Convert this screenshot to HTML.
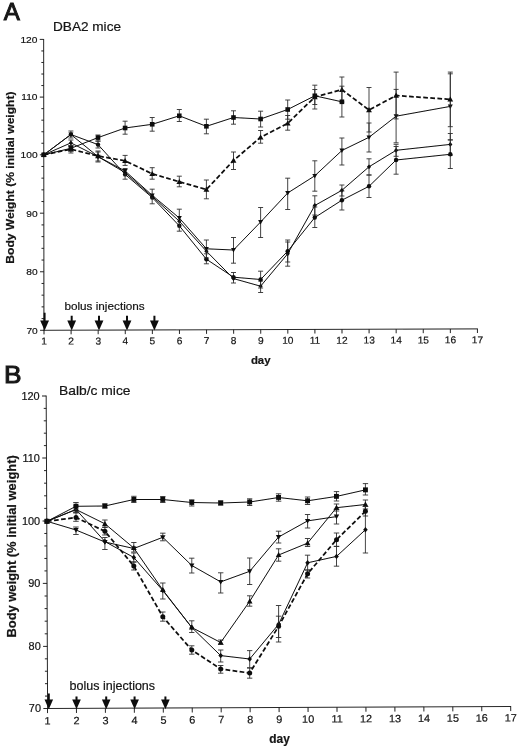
<!DOCTYPE html>
<html><head><meta charset="utf-8"><title>Body weight</title>
<style>html,body{margin:0;padding:0;background:#fff}body{width:520px;height:749px;overflow:hidden}svg{display:block}text{font-family:"Liberation Sans",sans-serif;fill:#141414;stroke:#141414;stroke-width:0.2px}</style></head><body>
<svg width="520" height="749" viewBox="0 0 520 749">
<rect width="520" height="749" fill="#fff"/>
<defs><filter id="soft" x="0" y="0" width="520" height="749" filterUnits="userSpaceOnUse"><feGaussianBlur stdDeviation="0.35"/></filter></defs>
<g filter="url(#soft)">
<g id="panelA">
<text transform="translate(3.75 19.55) scale(1.050 1)" font-size="23" text-anchor="start" style="stroke-width:0.9px">A</text>
<text x="53" y="31.3" font-size="12.4" textLength="68" lengthAdjust="spacingAndGlyphs">DBA2 mice</text>
<path d="M43.65 39.0L43.95 330.7" stroke="#0c0c0c" stroke-width="0.9" fill="none"/>
<path d="M40.05 330.30H43.95M41.60 318.59H43.94M41.59 306.88H43.93M41.57 295.17H43.91M41.56 283.46H43.90M39.99 271.75H43.89M41.54 260.04H43.88M41.53 248.33H43.87M41.51 236.62H43.85M41.50 224.91H43.84M39.93 213.20H43.83M41.48 201.52H43.82M41.47 189.84H43.81M41.45 178.16H43.79M41.44 166.48H43.78M39.87 154.80H43.77M41.42 143.26H43.76M41.41 131.72H43.75M41.39 120.18H43.73M41.38 108.64H43.72M39.81 97.10H43.71M41.36 85.56H43.70M41.35 74.02H43.69M41.33 62.48H43.67M41.32 50.94H43.66M39.75 39.40H43.65" stroke="#0c0c0c" stroke-width="0.9" fill="none"/>
<text transform="translate(37.75 333.69) scale(1.030 1)" font-size="9.9" text-anchor="end">70</text>
<text transform="translate(37.69 275.14) scale(1.030 1)" font-size="9.9" text-anchor="end">80</text>
<text transform="translate(37.63 216.59) scale(1.030 1)" font-size="9.9" text-anchor="end">90</text>
<text transform="translate(37.57 158.19) scale(1.030 1)" font-size="9.9" text-anchor="end">100</text>
<text transform="translate(37.51 100.49) scale(1.030 1)" font-size="9.9" text-anchor="end">110</text>
<text transform="translate(37.45 42.79) scale(1.030 1)" font-size="9.9" text-anchor="end">120</text>
<g transform="rotate(-0.1850 43.95 330.30)">
<path d="M43.55 330.30H477.84" stroke="#0c0c0c" stroke-width="0.9" fill="none"/>
<path d="M44.00 330.30v4.1M71.09 330.30v4.1M98.18 330.30v4.1M125.27 330.30v4.1M152.36 330.30v4.1M179.45 330.30v4.1M206.54 330.30v4.1M233.63 330.30v4.1M260.72 330.30v4.1M287.81 330.30v4.1M314.90 330.30v4.1M341.99 330.30v4.1M369.08 330.30v4.1M396.17 330.30v4.1M423.26 330.30v4.1M450.35 330.30v4.1M477.44 330.30v4.1" stroke="#0c0c0c" stroke-width="0.9" fill="none"/>
</g>
<g transform="rotate(-0.1850 43.95 330.30)">
<text transform="translate(44.00 344.60) scale(1.030 1)" font-size="9.9" text-anchor="middle">1</text>
<text transform="translate(71.09 344.60) scale(1.030 1)" font-size="9.9" text-anchor="middle">2</text>
<text transform="translate(98.18 344.60) scale(1.030 1)" font-size="9.9" text-anchor="middle">3</text>
<text transform="translate(125.27 344.60) scale(1.030 1)" font-size="9.9" text-anchor="middle">4</text>
<text transform="translate(152.36 344.60) scale(1.030 1)" font-size="9.9" text-anchor="middle">5</text>
<text transform="translate(179.45 344.60) scale(1.030 1)" font-size="9.9" text-anchor="middle">6</text>
<text transform="translate(206.54 344.60) scale(1.030 1)" font-size="9.9" text-anchor="middle">7</text>
<text transform="translate(233.63 344.60) scale(1.030 1)" font-size="9.9" text-anchor="middle">8</text>
<text transform="translate(260.72 344.60) scale(1.030 1)" font-size="9.9" text-anchor="middle">9</text>
<text transform="translate(287.81 344.60) scale(1.030 1)" font-size="9.9" text-anchor="middle">10</text>
<text transform="translate(314.90 344.60) scale(1.030 1)" font-size="9.9" text-anchor="middle">11</text>
<text transform="translate(341.99 344.60) scale(1.030 1)" font-size="9.9" text-anchor="middle">12</text>
<text transform="translate(369.08 344.60) scale(1.030 1)" font-size="9.9" text-anchor="middle">13</text>
<text transform="translate(396.17 344.60) scale(1.030 1)" font-size="9.9" text-anchor="middle">14</text>
<text transform="translate(423.26 344.60) scale(1.030 1)" font-size="9.9" text-anchor="middle">15</text>
<text transform="translate(450.35 344.60) scale(1.030 1)" font-size="9.9" text-anchor="middle">16</text>
<text transform="translate(477.44 344.60) scale(1.030 1)" font-size="9.9" text-anchor="middle">17</text>
</g>
<text transform="translate(14.1 263.7) rotate(-90) scale(1.024 1)" font-size="11.8" font-weight="bold">Body Weight (% initial weight)</text>
<text transform="translate(250.90 363.50) scale(1.000 1)" font-size="11.4" text-anchor="start" font-weight="bold">day</text>
<text x="64.4" y="310.0" font-size="11.7" textLength="80.3" lengthAdjust="spacingAndGlyphs">bolus injections</text>
<path d="M43.6 312.8h2V320.6h3.4L44.6 330.6L40.2 320.6h3.4Z" fill="#0c0c0c"/>
<path d="M70.7 315.8h2V320.6h3.4L71.7 330.6L67.3 320.6h3.4Z" fill="#0c0c0c"/>
<path d="M98.0 315.8h2V320.6h3.4L99.0 330.6L94.6 320.6h3.4Z" fill="#0c0c0c"/>
<path d="M126.0 315.8h2V320.6h3.4L127.0 330.6L122.6 320.6h3.4Z" fill="#0c0c0c"/>
<path d="M153.4 315.8h2V320.6h3.4L154.4 330.6L150.0 320.6h3.4Z" fill="#0c0c0c"/>
<path d="M70.9 140.0V146.0M68.4 140.0H73.4M68.4 146.0H73.4M233.5 272.5V283.0M231.0 272.5H236.0M231.0 283.0H236.0M260.6 281.0V292.5M258.1 281.0H263.1M258.1 292.5H263.1M287.7 240.0V266.2M285.2 240.0H290.2M285.2 266.2H290.2M314.8 195.8V215.0M312.3 195.8H317.3M312.3 215.0H317.3M341.9 185.0V196.0M339.4 185.0H344.4M339.4 196.0H344.4M369.0 158.8V175.0M366.5 158.8H371.5M366.5 175.0H371.5M396.1 144.3V156.3M393.6 144.3H398.6M393.6 156.3H398.6M450.3 133.5V155.3M447.8 133.5H452.8M447.8 155.3H452.8" fill="none" stroke="#2b2b2b" stroke-width="0.88"/>
<polyline points="43.8,154.8 70.9,142.9 98.0,156.6 125.1,172.6 152.2,196.4 179.3,221.2 206.4,251.2 233.5,278.6 260.6,286.2 287.7,253.8 314.8,205.5 341.9,190.3 369.0,166.8 396.1,150.3 450.3,144.4" fill="none" stroke="#0c0c0c" stroke-width="1.0"/>
<g fill="#0c0c0c"><path d="M43.8 152.4L45.9 154.8L43.8 157.2L41.7 154.8Z"/><path d="M70.9 140.5L73.0 142.9L70.9 145.3L68.8 142.9Z"/><path d="M98.0 154.2L100.1 156.6L98.0 159.0L95.9 156.6Z"/><path d="M125.1 170.2L127.2 172.6L125.1 175.0L123.0 172.6Z"/><path d="M152.2 194.0L154.3 196.4L152.2 198.8L150.1 196.4Z"/><path d="M179.3 218.8L181.4 221.2L179.3 223.6L177.2 221.2Z"/><path d="M206.4 248.8L208.5 251.2L206.4 253.6L204.3 251.2Z"/><path d="M233.5 276.2L235.6 278.6L233.5 281.0L231.4 278.6Z"/><path d="M260.6 283.8L262.7 286.2L260.6 288.6L258.5 286.2Z"/><path d="M287.7 251.4L289.8 253.8L287.7 256.2L285.6 253.8Z"/><path d="M314.8 203.1L316.9 205.5L314.8 207.9L312.7 205.5Z"/><path d="M341.9 187.9L344.0 190.3L341.9 192.7L339.8 190.3Z"/><path d="M369.0 164.4L371.1 166.8L369.0 169.2L366.9 166.8Z"/><path d="M396.1 147.9L398.2 150.3L396.1 152.7L394.0 150.3Z"/><path d="M450.3 142.0L452.4 144.4L450.3 146.8L448.2 144.4Z"/></g>
<path d="M98.0 141.0V148.0M95.5 141.0H100.5M95.5 148.0H100.5M206.4 253.8V263.8M203.9 253.8H208.9M203.9 263.8H208.9M260.6 271.2V288.0M258.1 271.2H263.1M258.1 288.0H263.1M287.7 242.0V262.0M285.2 242.0H290.2M285.2 262.0H290.2M314.8 207.0V227.5M312.3 207.0H317.3M312.3 227.5H317.3M341.9 191.0V210.0M339.4 191.0H344.4M339.4 210.0H344.4M369.0 175.0V197.5M366.5 175.0H371.5M366.5 197.5H371.5M396.1 146.5V174.2M393.6 146.5H398.6M393.6 174.2H398.6M450.3 139.9V168.5M447.8 139.9H452.8M447.8 168.5H452.8" fill="none" stroke="#2b2b2b" stroke-width="0.88"/>
<polyline points="43.8,154.8 70.9,134.5 98.0,144.6 125.1,174.4 152.2,197.5 179.3,225.8 206.4,259.2 233.5,277.2 260.6,279.5 287.7,251.2 314.8,217.5 341.9,200.2 369.0,186.3 396.1,160.0 450.3,154.3" fill="none" stroke="#0c0c0c" stroke-width="1.0"/>
<g fill="#0c0c0c"><circle cx="43.8" cy="154.8" r="2.2"/><circle cx="70.9" cy="134.5" r="2.2"/><circle cx="98.0" cy="144.6" r="2.2"/><circle cx="125.1" cy="174.4" r="2.2"/><circle cx="152.2" cy="197.5" r="2.2"/><circle cx="179.3" cy="225.8" r="2.2"/><circle cx="206.4" cy="259.2" r="2.2"/><circle cx="233.5" cy="277.2" r="2.2"/><circle cx="260.6" cy="279.5" r="2.2"/><circle cx="287.7" cy="251.2" r="2.2"/><circle cx="314.8" cy="217.5" r="2.2"/><circle cx="341.9" cy="200.2" r="2.2"/><circle cx="369.0" cy="186.3" r="2.2"/><circle cx="396.1" cy="160.0" r="2.2"/><circle cx="450.3" cy="154.3" r="2.2"/></g>
<path d="M70.9 131.0V138.0M68.4 131.0H73.4M68.4 138.0H73.4M98.0 152.0V162.0M95.5 152.0H100.5M95.5 162.0H100.5M125.1 168.5V179.2M122.6 168.5H127.6M122.6 179.2H127.6M152.2 189.2V203.8M149.7 189.2H154.7M149.7 203.8H154.7M179.3 209.2V231.2M176.8 209.2H181.8M176.8 231.2H181.8M206.4 240.0V258.0M203.9 240.0H208.9M203.9 258.0H208.9M233.5 237.5V263.2M231.0 237.5H236.0M231.0 263.2H236.0M260.6 207.5V237.5M258.1 207.5H263.1M258.1 237.5H263.1M287.7 178.2V209.5M285.2 178.2H290.2M285.2 209.5H290.2M314.8 160.8V191.2M312.3 160.8H317.3M312.3 191.2H317.3M341.9 138.0V165.0M339.4 138.0H344.4M339.4 165.0H344.4M369.0 123.0V152.0M366.5 123.0H371.5M366.5 152.0H371.5M396.1 89.4V142.8M393.6 89.4H398.6M393.6 142.8H398.6M450.3 73.8V139.9M447.8 73.8H452.8M447.8 139.9H452.8" fill="none" stroke="#2b2b2b" stroke-width="0.88"/>
<polyline points="43.8,154.8 70.9,134.5 98.0,156.6 125.1,171.0 152.2,195.3 179.3,218.0 206.4,248.8 233.5,250.0 260.6,222.0 287.7,193.0 314.8,175.8 341.9,150.5 369.0,137.3 396.1,116.2 450.3,106.4" fill="none" stroke="#0c0c0c" stroke-width="1.0"/>
<g fill="#0c0c0c"><path d="M43.8 157.3L46.3 152.9L41.3 152.9Z"/><path d="M70.9 137.0L73.4 132.6L68.4 132.6Z"/><path d="M98.0 159.1L100.5 154.7L95.5 154.7Z"/><path d="M125.1 173.5L127.6 169.1L122.6 169.1Z"/><path d="M152.2 197.8L154.7 193.4L149.7 193.4Z"/><path d="M179.3 220.5L181.8 216.1L176.8 216.1Z"/><path d="M206.4 251.3L208.9 246.9L203.9 246.9Z"/><path d="M233.5 252.5L236.0 248.1L231.0 248.1Z"/><path d="M260.6 224.5L263.1 220.1L258.1 220.1Z"/><path d="M287.7 195.5L290.2 191.1L285.2 191.1Z"/><path d="M314.8 178.3L317.3 173.9L312.3 173.9Z"/><path d="M341.9 153.0L344.4 148.6L339.4 148.6Z"/><path d="M369.0 139.8L371.5 135.4L366.5 135.4Z"/><path d="M396.1 118.7L398.6 114.3L393.6 114.3Z"/><path d="M450.3 108.9L452.8 104.5L447.8 104.5Z"/></g>
<path d="M70.9 145.5V153.0M68.4 145.5H73.4M68.4 153.0H73.4M98.0 151.0V161.0M95.5 151.0H100.5M95.5 161.0H100.5M125.1 155.4V165.4M122.6 155.4H127.6M122.6 165.4H127.6M152.2 167.7V179.2M149.7 167.7H154.7M149.7 179.2H154.7M179.3 176.2V186.8M176.8 176.2H181.8M176.8 186.8H181.8M206.4 180.0V198.8M203.9 180.0H208.9M203.9 198.8H208.9M233.5 152.0V169.5M231.0 152.0H236.0M231.0 169.5H236.0M260.6 130.5V143.2M258.1 130.5H263.1M258.1 143.2H263.1M287.7 115.5V130.2M285.2 115.5H290.2M285.2 130.2H290.2M314.8 89.5V109.0M312.3 89.5H317.3M312.3 109.0H317.3M341.9 77.0V102.0M339.4 77.0H344.4M339.4 102.0H344.4M369.0 87.5V132.0M366.5 87.5H371.5M366.5 132.0H371.5M396.1 72.1V118.9M393.6 72.1H398.6M393.6 118.9H398.6M450.3 72.1V126.7M447.8 72.1H452.8M447.8 126.7H452.8" fill="none" stroke="#2b2b2b" stroke-width="0.88"/>
<polyline points="43.8,154.8 70.9,149.2 98.0,156.0 125.1,160.8 152.2,173.8 179.3,181.8 206.4,189.5 233.5,160.5 260.6,137.3 287.7,123.3 314.8,97.0 341.9,89.7 369.0,110.0 396.1,95.5 450.3,99.4" fill="none" stroke="#0c0c0c" stroke-width="1.75" stroke-dasharray="4.7 2.4"/>
<g fill="#0c0c0c"><path d="M43.8 151.9L46.7 157.0L40.9 157.0Z"/><path d="M70.9 146.3L73.8 151.4L68.0 151.4Z"/><path d="M98.0 153.1L100.9 158.2L95.1 158.2Z"/><path d="M125.1 157.9L128.0 163.0L122.2 163.0Z"/><path d="M152.2 170.9L155.1 176.0L149.3 176.0Z"/><path d="M179.3 178.9L182.2 184.0L176.4 184.0Z"/><path d="M206.4 186.6L209.3 191.7L203.5 191.7Z"/><path d="M233.5 157.6L236.4 162.7L230.6 162.7Z"/><path d="M260.6 134.4L263.5 139.5L257.7 139.5Z"/><path d="M287.7 120.4L290.6 125.5L284.8 125.5Z"/><path d="M314.8 94.1L317.7 99.2L311.9 99.2Z"/><path d="M341.9 86.8L344.8 91.9L339.0 91.9Z"/><path d="M369.0 107.1L371.9 112.2L366.1 112.2Z"/><path d="M396.1 92.6L399.0 97.7L393.2 97.7Z"/><path d="M450.3 96.5L453.2 101.6L447.4 101.6Z"/></g>
<path d="M70.9 146.0V151.0M68.4 146.0H73.4M68.4 151.0H73.4M98.0 135.0V141.2M95.5 135.0H100.5M95.5 141.2H100.5M125.1 121.2V134.2M122.6 121.2H127.6M122.6 134.2H127.6M152.2 117.5V131.2M149.7 117.5H154.7M149.7 131.2H154.7M179.3 109.5V121.5M176.8 109.5H181.8M176.8 121.5H181.8M206.4 119.2V133.8M203.9 119.2H208.9M203.9 133.8H208.9M233.5 110.8V124.2M231.0 110.8H236.0M231.0 124.2H236.0M260.6 111.2V127.0M258.1 111.2H263.1M258.1 127.0H263.1M287.7 100.0V119.2M285.2 100.0H290.2M285.2 119.2H290.2M314.8 85.2V104.5M312.3 85.2H317.3M312.3 104.5H317.3M341.9 86.2V117.0M339.4 86.2H344.4M339.4 117.0H344.4" fill="none" stroke="#2b2b2b" stroke-width="0.88"/>
<polyline points="43.8,154.8 70.9,148.3 98.0,137.6 125.1,128.0 152.2,124.3 179.3,115.8 206.4,126.3 233.5,117.5 260.6,119.0 287.7,109.5 314.8,95.8 341.9,101.8" fill="none" stroke="#0c0c0c" stroke-width="1.0"/>
<g fill="#0c0c0c"><rect x="41.5" y="152.5" width="4.6" height="4.6"/><rect x="68.6" y="146.0" width="4.6" height="4.6"/><rect x="95.7" y="135.3" width="4.6" height="4.6"/><rect x="122.8" y="125.7" width="4.6" height="4.6"/><rect x="149.9" y="122.0" width="4.6" height="4.6"/><rect x="177.0" y="113.5" width="4.6" height="4.6"/><rect x="204.1" y="124.0" width="4.6" height="4.6"/><rect x="231.2" y="115.2" width="4.6" height="4.6"/><rect x="258.3" y="116.7" width="4.6" height="4.6"/><rect x="285.4" y="107.2" width="4.6" height="4.6"/><rect x="312.5" y="93.5" width="4.6" height="4.6"/><rect x="339.6" y="99.5" width="4.6" height="4.6"/></g>
</g>
<g id="panelB">
<text transform="translate(3.90 382.90) scale(1.100 1)" font-size="23.9" text-anchor="start" style="stroke-width:1.0px">B</text>
<text x="59" y="394.6" font-size="12.6" textLength="71.5" lengthAdjust="spacingAndGlyphs">Balb/c mice</text>
<path d="M46.20 395.6L47.60 708.9" stroke="#0c0c0c" stroke-width="0.9" fill="none"/>
<path d="M43.40 708.50H47.60M45.02 696.08H47.54M44.97 683.66H47.49M44.91 671.24H47.43M44.86 658.82H47.38M43.12 646.40H47.32M44.75 633.80H47.27M44.69 621.20H47.21M44.63 608.60H47.15M44.58 596.00H47.10M42.84 583.40H47.04M44.46 570.92H46.98M44.41 558.44H46.93M44.35 545.96H46.87M44.30 533.48H46.82M42.56 521.00H46.76M44.18 508.40H46.70M44.13 495.80H46.65M44.07 483.20H46.59M44.01 470.60H46.53M42.28 458.00H46.48M43.90 445.60H46.42M43.85 433.20H46.37M43.79 420.80H46.31M43.74 408.40H46.26M42.00 396.00H46.20" stroke="#0c0c0c" stroke-width="0.9" fill="none"/>
<text transform="translate(41.00 712.14) scale(1.030 1)" font-size="10.6" text-anchor="end">70</text>
<text transform="translate(40.72 650.04) scale(1.030 1)" font-size="10.6" text-anchor="end">80</text>
<text transform="translate(40.44 587.04) scale(1.030 1)" font-size="10.6" text-anchor="end">90</text>
<text transform="translate(40.16 524.64) scale(1.030 1)" font-size="10.6" text-anchor="end">100</text>
<text transform="translate(39.88 461.64) scale(1.030 1)" font-size="10.6" text-anchor="end">110</text>
<text transform="translate(39.60 399.64) scale(1.030 1)" font-size="10.6" text-anchor="end">120</text>
<g transform="rotate(-0.2474 47.60 708.50)">
<path d="M47.20 708.50H511.10" stroke="#0c0c0c" stroke-width="0.9" fill="none"/>
<path d="M47.50 708.50v4.6M76.45 708.50v4.6M105.40 708.50v4.6M134.35 708.50v4.6M163.30 708.50v4.6M192.25 708.50v4.6M221.20 708.50v4.6M250.15 708.50v4.6M279.10 708.50v4.6M308.05 708.50v4.6M337.00 708.50v4.6M365.95 708.50v4.6M394.90 708.50v4.6M423.85 708.50v4.6M452.80 708.50v4.6M481.75 708.50v4.6M510.70 708.50v4.6" stroke="#0c0c0c" stroke-width="0.9" fill="none"/>
</g>
<g transform="rotate(-0.3835 47.60 708.50)">
<text transform="translate(47.50 724.50) scale(1.030 1)" font-size="10.6" text-anchor="middle">1</text>
<text transform="translate(76.45 724.50) scale(1.030 1)" font-size="10.6" text-anchor="middle">2</text>
<text transform="translate(105.40 724.50) scale(1.030 1)" font-size="10.6" text-anchor="middle">3</text>
<text transform="translate(134.35 724.50) scale(1.030 1)" font-size="10.6" text-anchor="middle">4</text>
<text transform="translate(163.30 724.50) scale(1.030 1)" font-size="10.6" text-anchor="middle">5</text>
<text transform="translate(192.25 724.50) scale(1.030 1)" font-size="10.6" text-anchor="middle">6</text>
<text transform="translate(221.20 724.50) scale(1.030 1)" font-size="10.6" text-anchor="middle">7</text>
<text transform="translate(250.15 724.50) scale(1.030 1)" font-size="10.6" text-anchor="middle">8</text>
<text transform="translate(279.10 724.50) scale(1.030 1)" font-size="10.6" text-anchor="middle">9</text>
<text transform="translate(308.05 724.50) scale(1.030 1)" font-size="10.6" text-anchor="middle">10</text>
<text transform="translate(337.00 724.50) scale(1.030 1)" font-size="10.6" text-anchor="middle">11</text>
<text transform="translate(365.95 724.50) scale(1.030 1)" font-size="10.6" text-anchor="middle">12</text>
<text transform="translate(394.90 724.50) scale(1.030 1)" font-size="10.6" text-anchor="middle">13</text>
<text transform="translate(423.85 724.50) scale(1.030 1)" font-size="10.6" text-anchor="middle">14</text>
<text transform="translate(452.80 724.50) scale(1.030 1)" font-size="10.6" text-anchor="middle">15</text>
<text transform="translate(481.75 724.50) scale(1.030 1)" font-size="10.6" text-anchor="middle">16</text>
<text transform="translate(510.70 724.50) scale(1.030 1)" font-size="10.6" text-anchor="middle">17</text>
</g>
<text transform="translate(16.0 637.6) rotate(-90) scale(1.052 1)" font-size="12.3" font-weight="bold">Body weight (% initial weight)</text>
<text transform="translate(269.30 743.10) scale(1.000 1)" font-size="11.9" text-anchor="start" font-weight="bold">day</text>
<text x="69.6" y="689.7" font-size="12.3" textLength="85.5" lengthAdjust="spacingAndGlyphs">bolus injections</text>
<path d="M47.8 693.4h2V699.4h3.3L48.8 709.2L44.5 699.4h3.3Z" fill="#0c0c0c"/>
<path d="M75.5 696.4h2V699.4h3.3L76.5 709.2L72.2 699.4h3.3Z" fill="#0c0c0c"/>
<path d="M105.2 696.4h2V699.4h3.3L106.2 709.2L101.9 699.4h3.3Z" fill="#0c0c0c"/>
<path d="M133.6 696.4h2V699.4h3.3L134.6 709.2L130.3 699.4h3.3Z" fill="#0c0c0c"/>
<path d="M164.4 696.4h2V699.4h3.3L165.4 709.2L161.1 699.4h3.3Z" fill="#0c0c0c"/>
<path d="M76.0 527.0V534.5M73.2 527.0H78.7M73.2 534.5H78.7M104.9 537.5V549.5M102.2 537.5H107.6M102.2 549.5H107.6M162.8 533.2V540.8M160.1 533.2H165.5M160.1 540.8H165.5M191.8 558.2V573.0M189.1 558.2H194.4M189.1 573.0H194.4M220.7 572.8V593.0M218.0 572.8H223.4M218.0 593.0H223.4M249.7 558.0V584.5M247.0 558.0H252.3M247.0 584.5H252.3M278.6 531.2V543.0M275.9 531.2H281.3M275.9 543.0H281.3M307.6 514.5V528.0M304.9 514.5H310.2M304.9 528.0H310.2M336.5 509.3V524.0M333.8 509.3H339.2M333.8 524.0H339.2" fill="none" stroke="#2b2b2b" stroke-width="0.88"/>
<polyline points="47.0,521.3 76.0,530.0 104.9,542.0 133.8,548.5 162.8,537.3 191.8,565.5 220.7,581.9 249.7,571.3 278.6,537.0 307.6,520.9 336.5,516.6" fill="none" stroke="#0c0c0c" stroke-width="1.0"/>
<g fill="#0c0c0c"><path d="M47.0 524.0L49.7 519.3L44.3 519.3Z"/><path d="M76.0 532.7L78.6 528.0L73.3 528.0Z"/><path d="M104.9 544.7L107.6 540.0L102.2 540.0Z"/><path d="M133.8 551.2L136.5 546.5L131.2 546.5Z"/><path d="M162.8 540.0L165.5 535.3L160.1 535.3Z"/><path d="M191.8 568.2L194.4 563.5L189.1 563.5Z"/><path d="M220.7 584.6L223.4 579.9L218.0 579.9Z"/><path d="M249.7 574.0L252.3 569.3L247.0 569.3Z"/><path d="M278.6 539.7L281.3 535.0L275.9 535.0Z"/><path d="M307.6 523.6L310.2 518.9L304.9 518.9Z"/><path d="M336.5 519.3L339.2 514.6L333.8 514.6Z"/></g>
<path d="M133.8 553.0V562.0M131.2 553.0H136.5M131.2 562.0H136.5M220.7 650.0V662.0M218.0 650.0H223.4M218.0 662.0H223.4M249.7 650.6V667.8M247.0 650.6H252.3M247.0 667.8H252.3M278.6 605.5V642.0M275.9 605.5H281.3M275.9 642.0H281.3M307.6 555.2V570.0M304.9 555.2H310.2M304.9 570.0H310.2M336.5 546.5V566.2M333.8 546.5H339.2M333.8 566.2H339.2M365.4 506.5V553.0M362.8 506.5H368.1M362.8 553.0H368.1" fill="none" stroke="#2b2b2b" stroke-width="0.88"/>
<polyline points="47.0,521.3 76.0,509.5 104.9,541.5 133.8,557.5 162.8,590.5 191.8,627.5 220.7,655.6 249.7,659.0 278.6,624.3 307.6,562.8 336.5,556.4 365.4,529.8" fill="none" stroke="#0c0c0c" stroke-width="1.0"/>
<g fill="#0c0c0c"><path d="M47.0 518.6L49.3 521.3L47.0 524.0L44.7 521.3Z"/><path d="M76.0 506.8L78.2 509.5L76.0 512.2L73.7 509.5Z"/><path d="M104.9 538.8L107.2 541.5L104.9 544.2L102.6 541.5Z"/><path d="M133.8 554.8L136.1 557.5L133.8 560.2L131.6 557.5Z"/><path d="M162.8 587.8L165.1 590.5L162.8 593.2L160.5 590.5Z"/><path d="M191.8 624.8L194.0 627.5L191.8 630.2L189.5 627.5Z"/><path d="M220.7 652.9L223.0 655.6L220.7 658.3L218.4 655.6Z"/><path d="M249.7 656.3L251.9 659.0L249.7 661.7L247.4 659.0Z"/><path d="M278.6 621.6L280.9 624.3L278.6 627.0L276.3 624.3Z"/><path d="M307.6 560.1L309.8 562.8L307.6 565.5L305.3 562.8Z"/><path d="M336.5 553.7L338.8 556.4L336.5 559.1L334.2 556.4Z"/><path d="M365.4 527.1L367.7 529.8L365.4 532.5L363.2 529.8Z"/></g>
<path d="M76.0 506.0V513.0M73.2 506.0H78.7M73.2 513.0H78.7M104.9 520.0V527.5M102.2 520.0H107.6M102.2 527.5H107.6M133.8 542.5V552.0M131.2 542.5H136.5M131.2 552.0H136.5M162.8 583.0V599.0M160.1 583.0H165.5M160.1 599.0H165.5M191.8 620.8V632.5M189.1 620.8H194.4M189.1 632.5H194.4M220.7 640.0V644.5M218.0 640.0H223.4M218.0 644.5H223.4M249.7 595.8V606.2M247.0 595.8H252.3M247.0 606.2H252.3M278.6 548.8V561.2M275.9 548.8H281.3M275.9 561.2H281.3M307.6 538.5V546.5M304.9 538.5H310.2M304.9 546.5H310.2M336.5 504.0V511.0M333.8 504.0H339.2M333.8 511.0H339.2M365.4 500.0V509.0M362.8 500.0H368.1M362.8 509.0H368.1" fill="none" stroke="#2b2b2b" stroke-width="0.88"/>
<polyline points="47.0,521.3 76.0,509.5 104.9,523.8 133.8,548.0 162.8,590.0 191.8,627.5 220.7,642.5 249.7,601.3 278.6,555.0 307.6,543.1 336.5,507.7 365.4,504.5" fill="none" stroke="#0c0c0c" stroke-width="1.0"/>
<g fill="#0c0c0c"><path d="M47.0 518.4L49.9 523.4L44.1 523.4Z"/><path d="M76.0 506.6L78.8 511.6L73.1 511.6Z"/><path d="M104.9 520.9L107.8 525.9L102.1 525.9Z"/><path d="M133.8 545.1L136.7 550.1L131.0 550.1Z"/><path d="M162.8 587.1L165.7 592.1L160.0 592.1Z"/><path d="M191.8 624.6L194.6 629.6L188.9 629.6Z"/><path d="M220.7 639.6L223.5 644.6L217.8 644.6Z"/><path d="M249.7 598.4L252.5 603.4L246.8 603.4Z"/><path d="M278.6 552.1L281.5 557.1L275.8 557.1Z"/><path d="M307.6 540.2L310.4 545.2L304.7 545.2Z"/><path d="M336.5 504.8L339.4 509.8L333.6 509.8Z"/><path d="M365.4 501.6L368.3 506.6L362.6 506.6Z"/></g>
<path d="M76.0 512.5V521.3M73.2 512.5H78.7M73.2 521.3H78.7M104.9 527.0V535.0M102.2 527.0H107.6M102.2 535.0H107.6M133.8 562.0V570.0M131.2 562.0H136.5M131.2 570.0H136.5M162.8 612.0V621.2M160.1 612.0H165.5M160.1 621.2H165.5M191.8 645.8V654.2M189.1 645.8H194.4M189.1 654.2H194.4M220.7 665.5V673.2M218.0 665.5H223.4M218.0 673.2H223.4M249.7 668.0V678.2M247.0 668.0H252.3M247.0 678.2H252.3M278.6 616.2V637.5M275.9 616.2H281.3M275.9 637.5H281.3M307.6 570.0V578.0M304.9 570.0H310.2M304.9 578.0H310.2M336.5 533.0V546.3M333.8 533.0H339.2M333.8 546.3H339.2M365.4 506.5V516.0M362.8 506.5H368.1M362.8 516.0H368.1" fill="none" stroke="#2b2b2b" stroke-width="0.88"/>
<polyline points="47.0,521.3 76.0,517.5 104.9,531.3 133.8,566.0 162.8,616.8 191.8,650.0 220.7,669.0 249.7,673.0 278.6,626.3 307.6,573.8 336.5,539.7 365.4,511.3" fill="none" stroke="#0c0c0c" stroke-width="1.75" stroke-dasharray="4.7 2.4"/>
<g fill="#0c0c0c"><circle cx="47.0" cy="521.3" r="2.5"/><circle cx="76.0" cy="517.5" r="2.5"/><circle cx="104.9" cy="531.3" r="2.5"/><circle cx="133.8" cy="566.0" r="2.5"/><circle cx="162.8" cy="616.8" r="2.5"/><circle cx="191.8" cy="650.0" r="2.5"/><circle cx="220.7" cy="669.0" r="2.5"/><circle cx="249.7" cy="673.0" r="2.5"/><circle cx="278.6" cy="626.3" r="2.5"/><circle cx="307.6" cy="573.8" r="2.5"/><circle cx="336.5" cy="539.7" r="2.5"/><circle cx="365.4" cy="511.3" r="2.5"/></g>
<path d="M76.0 502.5V510.0M73.2 502.5H78.7M73.2 510.0H78.7M104.9 504.0V508.0M102.2 504.0H107.6M102.2 508.0H107.6M133.8 496.3V502.5M131.2 496.3H136.5M131.2 502.5H136.5M162.8 496.5V502.5M160.1 496.5H165.5M160.1 502.5H165.5M191.8 499.8V506.0M189.1 499.8H194.4M189.1 506.0H194.4M220.7 501.0V505.0M218.0 501.0H223.4M218.0 505.0H223.4M249.7 498.8V505.5M247.0 498.8H252.3M247.0 505.5H252.3M278.6 493.8V501.2M275.9 493.8H281.3M275.9 501.2H281.3M307.6 497.0V504.5M304.9 497.0H310.2M304.9 504.5H310.2M336.5 491.6V501.0M333.8 491.6H339.2M333.8 501.0H339.2M365.4 483.6V495.0M362.8 483.6H368.1M362.8 495.0H368.1" fill="none" stroke="#2b2b2b" stroke-width="0.88"/>
<polyline points="47.0,521.3 76.0,506.3 104.9,506.0 133.8,499.5 162.8,499.5 191.8,502.5 220.7,503.0 249.7,502.0 278.6,497.5 307.6,500.8 336.5,496.4 365.4,489.9" fill="none" stroke="#0c0c0c" stroke-width="1.0"/>
<g fill="#0c0c0c"><rect x="44.5" y="518.8" width="4.9" height="4.9"/><rect x="73.5" y="503.8" width="4.9" height="4.9"/><rect x="102.4" y="503.5" width="4.9" height="4.9"/><rect x="131.4" y="497.0" width="4.9" height="4.9"/><rect x="160.3" y="497.0" width="4.9" height="4.9"/><rect x="189.3" y="500.0" width="4.9" height="4.9"/><rect x="218.2" y="500.5" width="4.9" height="4.9"/><rect x="247.2" y="499.5" width="4.9" height="4.9"/><rect x="276.1" y="495.0" width="4.9" height="4.9"/><rect x="305.1" y="498.3" width="4.9" height="4.9"/><rect x="334.0" y="493.9" width="4.9" height="4.9"/><rect x="363.0" y="487.4" width="4.9" height="4.9"/></g>
</g>
</g>
</svg></body></html>
